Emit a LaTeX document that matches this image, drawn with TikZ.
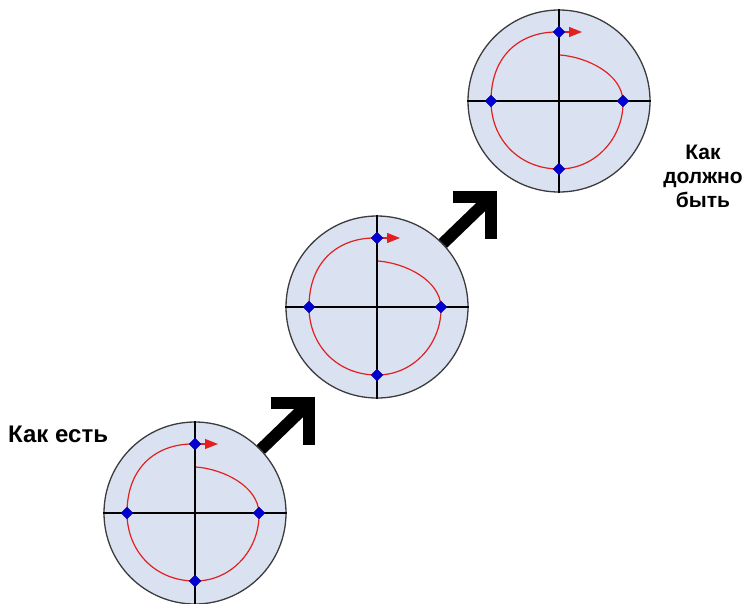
\documentclass[tikz,border=0pt]{standalone}
\usepackage{fontspec}
\setmainfont{Liberation Sans}
\usetikzlibrary{shapes.geometric,arrows.meta}
\definecolor{dialfill}{RGB}{218,226,241}
\definecolor{dialrim}{RGB}{60,60,60}
\definecolor{trackred}{RGB}{226,32,32}
\definecolor{markblue}{RGB}{0,0,210}
\tikzset{dial/.style = {circle, draw=dialrim, fill=dialfill, line width=1.3pt, minimum size=182pt, inner sep=0pt},
  marker/.style = {diamond, fill=markblue, draw=markblue!70!black, line width=.4pt, minimum size=12pt, inner sep=0pt},
  track/.style = {trackred, line width=1.2pt},
  fatshaft/.style = {line width=12pt},
  fathead/.style = {line width=12pt, line join=miter},
  caption/.style = {inner sep=0pt}}

\begin{document}
\begin{tikzpicture}[x=1pt, y=-1pt]
  \useasboundingbox (0,0) rectangle (746,603);
  \foreach \i/\cx/\cy in {1/195/513, 2/377/307, 3/559/101} {
    \node[dial] (c\i) at (\cx,\cy) {};
    \draw[line width=1.2pt] (c\i.west) -- (c\i.east) (c\i.north) -- (c\i.south);
    \begin{scope}[shift={(\cx,\cy)}]
      \draw[track] (1,-46) .. controls (28,-44) and (63,-27) .. (64,0)
        .. controls (65,35) and (38,68) .. (0,68)
        .. controls (-40,68) and (-68,38) .. (-68,0)
        .. controls (-68,-48) and (-36,-70) .. (0,-69);
      \draw[track, -{Triangle[length=13pt, width=10pt]}] (0,-69) -- (23,-69);
      \node[marker] (top\i) at (0,-69) {};
      \node[marker] (bot\i) at (0,68) {};
      \node[marker] (lft\i) at (-68,0) {};
      \node[marker] (rgt\i) at (64,0) {};
    \end{scope}
  }
  \foreach \i in {1,2} {
    \coordinate (t\i) at ([shift={(114,-110)}]c\i.center);
    \draw[fatshaft] (c\i) -- (t\i);
    \draw[fathead] (t\i) ++(-38,0) -- (t\i) -- ++(0,42);
  }
  \node[caption, font=\bfseries\fontsize{24}{28}\selectfont, anchor=base west] (asis) at (8,442) {Как есть};
  \node[caption, font=\bfseries\fontsize{21}{24}\selectfont, align=center, anchor=north] (tobe) at (703,145) {Как\\должно\\быть};
\end{tikzpicture}
\end{document}
